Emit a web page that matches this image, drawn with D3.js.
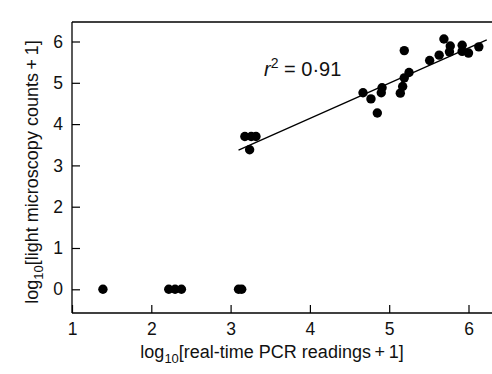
<!DOCTYPE html>
<html><head><meta charset="utf-8">
<script src="https://cdn.jsdelivr.net/npm/d3@7"></script>
<style>body{margin:0;background:#fff}svg{display:block;font-family:"Liberation Sans",Arial,sans-serif}</style>
</head><body><svg id="c" width="492" height="374"></svg>
<script>
const pcr = [1.39,2.22,2.30,2.38,3.10,3.14,3.18,3.26,3.32,3.24,4.67,4.77,4.85,4.91,4.90,5.14,5.17,5.19,5.25,5.19,5.51,5.63,5.69,5.77,5.76,5.92,5.92,6.00,6.13];
const microscopy = [0,0,0,0,0,0,3.70,3.70,3.70,3.38,4.76,4.61,4.27,4.88,4.76,4.75,4.91,5.12,5.25,5.78,5.54,5.67,6.06,5.89,5.75,5.91,5.76,5.72,5.87];
const xTicks = [1,2,3,4,5,6];
const yTicks = [0,1,2,3,4,5,6];
const fitLine = [[3.10,3.37],[6.23,6.04]];
const rText = "0·91";

const svg = d3.select("#c");
const L = 72, T = 22, R = 492, B = 313;
const x = d3.scaleLinear().domain([1, 6.3]).range([L, L + 5.3*79.3]);
const y = d3.scaleLinear().domain([0, 6]).range([289.3, 289.3 - 6*41.3]);

svg.append("line").attr("x1",L).attr("x2",R).attr("y1",T).attr("y2",T).attr("stroke","#000").attr("stroke-width",1.3);

const xAxis = svg.append("g").attr("transform",`translate(0,${B})`)
  .call(d3.axisBottom(x).tickValues(xTicks).tickSizeInner(-8).tickSizeOuter(0).tickPadding(14).tickFormat(d3.format("d")));
xAxis.select(".domain").attr("d",`M${L},0H${R}`);
const yAxis = svg.append("g").attr("transform",`translate(${L},0)`)
  .call(d3.axisLeft(y).tickValues(yTicks).tickSizeInner(-8).tickSizeOuter(0).tickPadding(10).tickFormat(d3.format("d")));
yAxis.select(".domain").attr("d",`M0,${T}V${B}`);
svg.selectAll(".domain").attr("stroke","#000").attr("stroke-width",1.3);
svg.selectAll(".tick line").attr("stroke","#000").attr("stroke-width",1.2);
svg.selectAll(".tick text").attr("font-size",17.5).attr("fill","#111").attr("font-family","Liberation Sans, Arial, sans-serif");
yAxis.selectAll(".tick text").attr("x",-9);
xAxis.selectAll(".tick text").attr("y",10).attr("dy","0.71em");

svg.append("line")
  .attr("x1",x(fitLine[0][0])).attr("y1",y(fitLine[0][1]))
  .attr("x2",x(fitLine[1][0])).attr("y2",y(fitLine[1][1]))
  .attr("stroke","#000").attr("stroke-width",1.3);

svg.append("g").selectAll("circle").data(pcr.map((d,i)=>[d,microscopy[i]])).join("circle")
  .attr("cx",d=>x(d[0])).attr("cy",d=>y(d[1])).attr("r",4.7).attr("fill","#000");

const rt = svg.append("text").attr("x",264).attr("y",76).attr("font-size",20).attr("fill","#111");
rt.append("tspan").attr("font-style","italic").text("r");
rt.append("tspan").attr("font-size",14).attr("dy",-8).text("2");
rt.append("tspan").attr("dy",8).text(" = " + rText);

const xl = svg.append("text").attr("x",272).attr("y",358).attr("text-anchor","middle").attr("font-size",18).attr("fill","#111");
xl.append("tspan").text("log");
xl.append("tspan").attr("font-size",13).attr("dy",5).text("10");
xl.append("tspan").attr("dy",-5).text("[real-time PCR readings\u2009+\u20091]");

const yl = svg.append("text").attr("transform","translate(38,172) rotate(-90)").attr("text-anchor","middle").attr("font-size",18).attr("fill","#111");
yl.append("tspan").text("log");
yl.append("tspan").attr("font-size",13).attr("dy",5).text("10");
yl.append("tspan").attr("dy",-5).text("[light microscopy counts\u2009+\u20091]");
</script></body></html>
